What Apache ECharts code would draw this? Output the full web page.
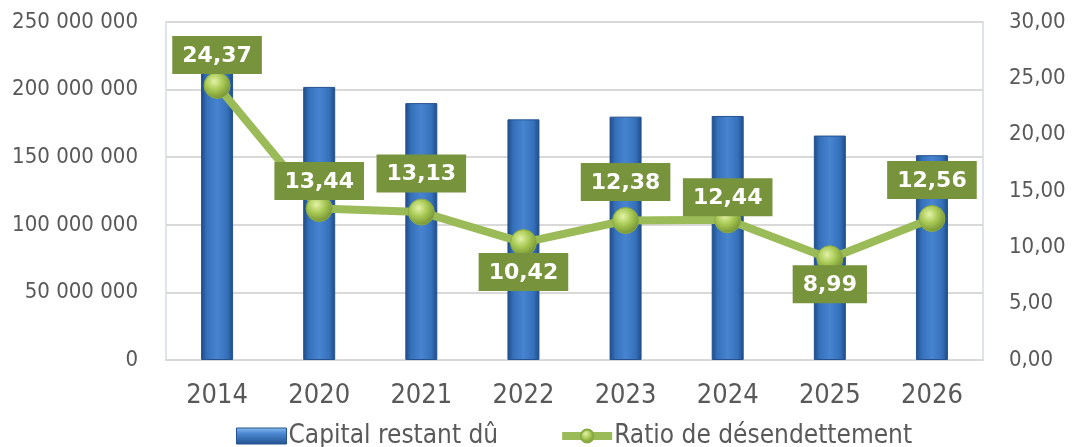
<!DOCTYPE html>
<html>
<head>
<meta charset="utf-8">
<script src="https://cdn.jsdelivr.net/npm/echarts@6/dist/echarts.min.js"></script>
<style>
  html, body { margin: 0; padding: 0; background: #fff; }
  #chart { width: 1074px; height: 447px; }
</style>
</head>
<body>
<div id="chart"></div>
<script>
// valeurs
const years = ['2014', '2020', '2021', '2022', '2023', '2024', '2025', '2026'];
const capital = [215000000, 202000000, 190000000, 178000000, 180000000, 180500000, 166000000, 151500000];
const ratio = [24.37, 13.44, 13.13, 10.42, 12.38, 12.44, 8.99, 12.56];
// placement des étiquettes (côté + distance au point)
const labelSide = ['top', 'top', 'top', 'bottom', 'top', 'top', 'bottom', 'top'];
const labelDist = [-2, -5, 6, -3, 6, -10, -7, 6];

const axisFont = 'DejaVu Sans Condensed';
const txtColor = '#595959';

const fmtSpace = v => String(Math.round(v)).replace(/\B(?=(\d{3})+(?!\d))/g, ' ');
const fmtComma = v => v.toFixed(2).replace('.', ',');

const barColor = {
  type: 'linear', x: 0, y: 0, x2: 1, y2: 0,
  colorStops: [
    { offset: 0, color: '#1E4A86' },
    { offset: 0.18, color: '#3570BA' },
    { offset: 0.5, color: '#4784D0' },
    { offset: 0.82, color: '#3570BA' },
    { offset: 1, color: '#1E4A86' }
  ]
};

const legendBarColor = {
  type: 'linear', x: 0, y: 0, x2: 0, y2: 1,
  colorStops: [
    { offset: 0, color: '#8EC0F2' },
    { offset: 0.35, color: '#4A88D2' },
    { offset: 1, color: '#24528F' }
  ]
};

const ballColor = {
  type: 'radial', x: 0.4, y: 0.35, r: 0.7,
  colorStops: [
    { offset: 0, color: '#E4F2A8' },
    { offset: 0.45, color: '#A9CA55' },
    { offset: 1, color: '#6E8C2E' }
  ]
};

const chart = echarts.init(document.getElementById('chart'));

chart.setOption({
  animation: false,
  grid: {
    left: 166, right: 91, top: 22, bottom: 87,
    show: true, borderColor: '#DCE4EE', borderWidth: 2
  },
  legend: {
    top: 418,
    left: 231,
    itemGap: 60,
    itemWidth: 50,
    itemHeight: 16,
    textStyle: { fontFamily: axisFont, fontSize: 26, color: txtColor, padding: [0, 0, 0, -3] },
    data: [
      { name: 'Capital restant dû', icon: 'rect', itemStyle: { color: legendBarColor, borderColor: '#24528F', borderWidth: 1 } },
      { name: 'Ratio de désendettement', lineStyle: { width: 8, color: '#9BBB59' } }
    ]
  },
  xAxis: {
    type: 'category',
    data: years,
    axisLine: { show: true, lineStyle: { color: '#D9D9D9', width: 2 } },
    axisTick: { show: false },
    axisLabel: { fontFamily: axisFont, fontSize: 27, color: txtColor, margin: 22 }
  },
  yAxis: [
    {
      type: 'value', min: 0, max: 250000000, interval: 50000000,
      axisLine: { show: false }, axisTick: { show: false },
      splitLine: { lineStyle: { color: '#D9D9D9', width: 2 } },
      axisLabel: { fontFamily: axisFont, fontSize: 22, color: txtColor, margin: 28, formatter: fmtSpace }
    },
    {
      type: 'value', min: 0, max: 30, interval: 5,
      axisLine: { show: false }, axisTick: { show: false },
      splitLine: { show: false },
      axisLabel: { fontFamily: axisFont, fontSize: 22, color: txtColor, margin: 26, formatter: fmtComma }
    }
  ],
  series: [
    {
      name: 'Capital restant dû',
      type: 'bar',
      data: capital,
      barWidth: 32,
      itemStyle: { color: barColor, borderColor: '#24528F', borderWidth: 1 }
    },
    {
      name: 'Ratio de désendettement',
      type: 'line',
      yAxisIndex: 1,
      data: ratio.map((v, i) => ({
        value: v,
        label: { position: labelSide[i], distance: labelDist[i] }
      })),
      symbol: 'circle',
      symbolSize: 26,
      lineStyle: { color: '#9BBB59', width: 8 },
      itemStyle: { color: ballColor, borderColor: '#8AAA45', borderWidth: 1 },
      label: {
        show: true,
        formatter: p => fmtComma(p.value),
        fontFamily: 'DejaVu Sans',
        fontWeight: 'bold',
        fontSize: 22,
        lineHeight: 22,
        color: '#fff',
        backgroundColor: '#77933C',
        padding: [9, 10, 7, 10]
      },
      z: 5
    }
  ]
});
</script>
</body>
</html>
